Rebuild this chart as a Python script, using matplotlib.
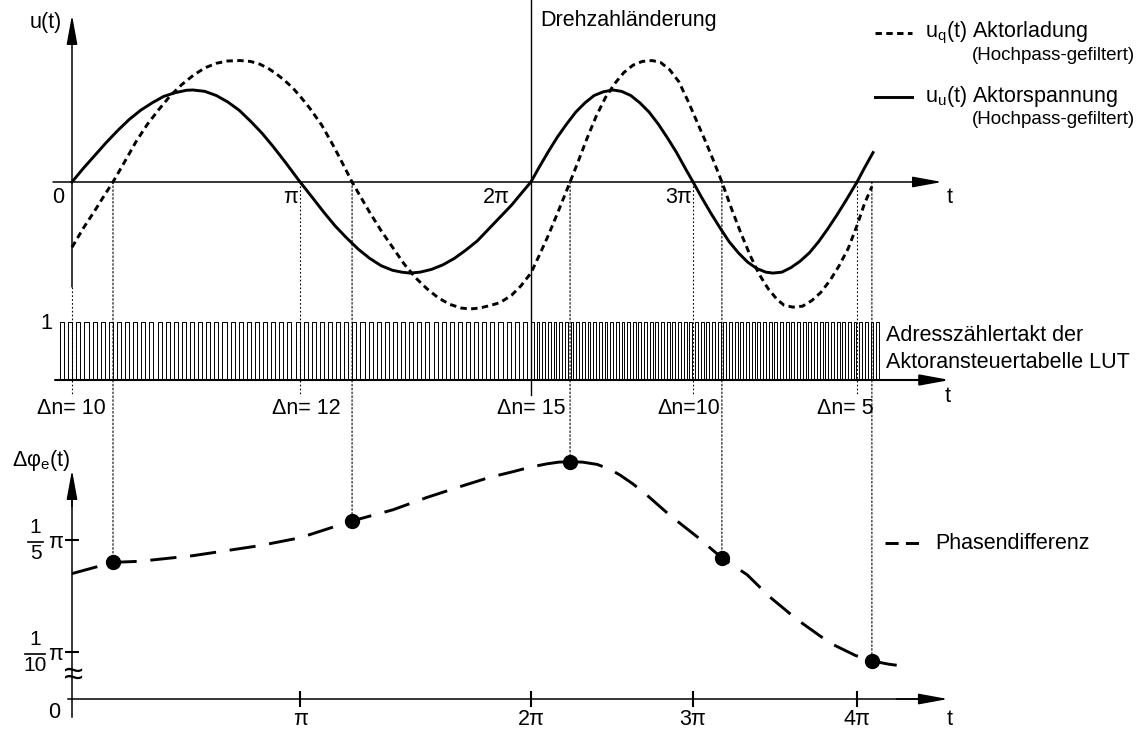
import numpy as np
import matplotlib.pyplot as plt
from matplotlib.patches import ConnectionPatch

plt.rcParams['font.family'] = ['Liberation Sans', 'DejaVu Sans']
plt.rcParams['mathtext.fontset'] = 'custom'
plt.rcParams['mathtext.rm'] = 'Liberation Sans'

# ---- data (t in units where one period before the speed change = 2) ----
# actuator voltage u_u(t), high-pass filtered
uu_t = [0.0, 0.05, 0.10, 0.15, 0.20, 0.25, 0.30, 0.35, 0.40, 0.45, 0.50, 0.528,
        0.58, 0.63, 0.68, 0.73, 0.78, 0.83, 0.88, 0.93, 0.996,
        1.05, 1.10, 1.15, 1.20, 1.25, 1.30, 1.35, 1.40, 1.44, 1.476,
        1.52, 1.57, 1.62, 1.67, 1.72, 1.77, 1.82, 1.87, 1.92, 1.96, 2.004,
        2.04, 2.08, 2.12, 2.16, 2.20, 2.24, 2.28, 2.32, 2.362,
        2.40, 2.44, 2.48, 2.52, 2.56, 2.60, 2.64, 2.68, 2.712,
        2.75, 2.79, 2.83, 2.87, 2.91, 2.95, 2.99, 3.03, 3.061,
        3.10, 3.14, 3.18, 3.22, 3.26, 3.30, 3.34, 3.38, 3.428, 3.46, 3.498]
uu_v = [0.0, 0.15, 0.29, 0.43, 0.56, 0.68, 0.78, 0.86, 0.93, 0.97, 0.997, 1.0,
        0.985, 0.94, 0.87, 0.78, 0.66, 0.53, 0.38, 0.22, 0.0,
        -0.17, -0.33, -0.48, -0.61, -0.73, -0.83, -0.91, -0.96, -0.98, -0.99,
        -0.98, -0.95, -0.90, -0.83, -0.74, -0.64, -0.51, -0.38, -0.25, -0.13, 0.0,
        0.16, 0.33, 0.49, 0.63, 0.76, 0.86, 0.94, 0.98, 1.0,
        0.985, 0.94, 0.86, 0.76, 0.63, 0.48, 0.32, 0.14, 0.0,
        -0.17, -0.34, -0.50, -0.65, -0.77, -0.87, -0.94, -0.98, -0.99,
        -0.98, -0.93, -0.86, -0.77, -0.65, -0.51, -0.36, -0.20, 0.0, 0.15, 0.32]

# actuator charge u_q(t), high-pass filtered
uq_t = [0.0, 0.05, 0.10, 0.14, 0.179, 0.23, 0.28, 0.33, 0.38, 0.43, 0.48, 0.53,
        0.58, 0.63, 0.68, 0.734, 0.78, 0.821, 0.86, 0.895, 0.93, 0.965, 1.00,
        1.039, 1.09, 1.14, 1.18, 1.223,
        1.26, 1.30, 1.35, 1.40, 1.45, 1.50, 1.55, 1.60, 1.65, 1.70, 1.738,
        1.78, 1.83, 1.87, 1.92, 1.96, 2.004,
        2.04, 2.08, 2.12, 2.175, 2.21, 2.25, 2.29, 2.33, 2.37, 2.41, 2.45, 2.49,
        2.533, 2.57, 2.61, 2.65, 2.69, 2.73, 2.77, 2.80, 2.838,
        2.88, 2.92, 2.96, 3.00, 3.04, 3.08, 3.11, 3.148,
        3.19, 3.23, 3.27, 3.31, 3.35, 3.39, 3.43, 3.46, 3.493]
uq_v = [-0.71, -0.50, -0.31, -0.15, 0.0, 0.22, 0.44, 0.63, 0.79, 0.94, 1.06, 1.16,
        1.24, 1.29, 1.315, 1.32, 1.31, 1.28, 1.23, 1.17, 1.10, 1.02, 0.92,
        0.80, 0.62, 0.40, 0.21, 0.0,
        -0.16, -0.33, -0.53, -0.71, -0.89, -1.04, -1.16, -1.26, -1.33, -1.37, -1.38,
        -1.37, -1.34, -1.31, -1.23, -1.13, -0.99,
        -0.80, -0.58, -0.34, 0.0, 0.22, 0.48, 0.72, 0.92, 1.07, 1.19, 1.27, 1.31,
        1.32, 1.30, 1.22, 1.09, 0.88, 0.65, 0.42, 0.24, 0.0,
        -0.29, -0.55, -0.79, -1.00, -1.16, -1.28, -1.34, -1.36,
        -1.35, -1.29, -1.20, -1.07, -0.91, -0.72, -0.46, -0.24, -0.05]

# phase difference in units of pi
phi_t = [0.0, 0.179, 0.297, 0.528, 0.821, 0.996, 1.223, 1.402, 1.550, 1.700, 1.825,
         1.926, 2.000, 2.074, 2.125, 2.175, 2.230, 2.293, 2.350, 2.393, 2.450, 2.511,
         2.611, 2.729, 2.838, 2.948, 3.048, 3.166, 3.310, 3.420, 3.493, 3.570, 3.646]
phi_v = [0.170, 0.180, 0.181, 0.186, 0.195, 0.202, 0.217, 0.227, 0.238, 0.248, 0.256,
         0.261, 0.265, 0.268, 0.2695, 0.270, 0.2695, 0.2675, 0.263, 0.258, 0.250, 0.240,
         0.222, 0.203, 0.184, 0.169, 0.149, 0.129, 0.108, 0.097, 0.092, 0.089, 0.087]

# sampling instants (zero crossings of u_q) and their phase difference
sample_t = [0.179, 1.223, 2.175, 2.838, 3.493]
sample_phi = [0.180, 0.217, 0.270, 0.184, 0.092]

# zero crossings of u_u
uu_zero_t = [0.996, 2.712, 3.428]
speed_change_t = 2.004

# clock of the LUT address counter
clock_start, clock_end = -0.052, 3.537
clock_pulses = [58, 62]          # pulses before / after the speed change
delta_n = ['Δn= 10', 'Δn= 12', 'Δn= 15', 'Δn=10', 'Δn= 5']
delta_n_t = [-0.153, 0.873, 1.856, 2.555, 3.253]

tick_t = [0.996, 2.004, 2.712, 3.428]
tick_labels = ['π', '2π', '3π', '4π']
phi_floor = 0.058                # broken axis: drawn "0" level

# ---- figure: three overlaid full-size axes sharing the t scale ----
fig = plt.figure(figsize=(11.42, 7.31), dpi=100)
xlim = (-0.3144, 4.6725)
ax_u = fig.add_axes([0, 0, 1, 1])
ax_c = fig.add_axes([0, 0, 1, 1])
ax_p = fig.add_axes([0, 0, 1, 1])
ax_u.set_ylim(-5.967, 1.978)
ax_c.set_ylim(-6.052, 6.552)
ax_p.set_ylim(0.02946, 0.68214)
for ax in (ax_u, ax_c, ax_p):
    ax.set_xlim(*xlim)
    ax.patch.set_alpha(0)
    for s in ax.spines.values():
        s.set_visible(False)
    ax.set_xticks([])
    ax.set_yticks([])

fs = 15.5
k = 'black'
arrow = dict(arrowstyle='-|>,head_length=1.8,head_width=0.33', color=k, lw=1.1,
             shrinkA=0, shrinkB=0, mutation_scale=10)
dotted = dict(color=k, lw=0.8, ls=(0, (1.5, 2)))
guide_bottom = -2.32

# ---- top panel: u(t) ----
ax_u.annotate('', xy=(0, 1.815), xytext=(0, -1.141), arrowprops=arrow)
ax_u.annotate('', xy=(3.799, 0), xytext=(-0.083, 0), arrowprops=arrow)
ax_u.plot([0, 0], [-1.141, guide_bottom], **dotted)
for t in uu_zero_t:
    ax_u.plot([t, t], [0, guide_bottom], **dotted)
ax_u.plot([speed_change_t] * 2, [1.978, guide_bottom], color=k, lw=1.0)

ax_u.plot(uq_t, uq_v, color=k, lw=2.1, ls=(0, (2.2, 1.5)))
ax_u.plot(uu_t, uu_v, color=k, lw=2.1, solid_joinstyle='round')

ax_u.text(-0.044, 1.73, 'u(t)', fontsize=fs, ha='right', va='center')
ax_u.text(-0.061, -0.17, '0', fontsize=fs, ha='center', va='center')
for t, lab in zip([0.987, 1.913, 2.707], ['π', '2π', '3π']):
    ax_u.text(t, -0.17, lab, fontsize=fs, ha='right', va='center')
ax_u.text(3.834, -0.17, 't', fontsize=fs, ha='center', va='center')
ax_u.text(2.044, 1.75, 'Drehzahländerung', fontsize=fs, ha='left', va='center')

# legend
ax_u.plot([3.507, 3.668], [1.62, 1.62], color=k, lw=2.1, ls=(0, (2.2, 1.5)))
ax_u.text(3.725, 1.62, r'u$_\mathregular{q}$(t) Aktorladung', fontsize=fs,
          ha='left', va='center')
ax_u.text(3.930, 1.37, '(Hochpass-gefiltert)', fontsize=13.5, ha='left', va='center')
ax_u.plot([3.507, 3.668], [0.924, 0.924], color=k, lw=2.1)
ax_u.text(3.725, 0.924, r'u$_\mathregular{u}$(t) Aktorspannung', fontsize=fs,
          ha='left', va='center')
ax_u.text(3.930, 0.674, '(Hochpass-gefiltert)', fontsize=13.5, ha='left', va='center')

# ---- middle panel: address counter clock ----
def clock_wave(t0, t1, n):
    edges = np.linspace(t0, t1, n + 1)
    xs, ys = [], []
    for a, b in zip(edges[:-1], edges[1:]):
        m = (a + b) / 2
        xs += [a, a, m, m]
        ys += [0, 1, 1, 0]
    return xs, ys

x1, y1 = clock_wave(clock_start, speed_change_t, clock_pulses[0])
x2, y2 = clock_wave(speed_change_t, clock_end, clock_pulses[1])
ax_c.plot(x1 + x2, y1 + y2, color=k, lw=0.7)
ax_c.annotate('', xy=(3.834, 0), xytext=(-0.074, 0),
              arrowprops=dict(arrow, lw=1.5))
ax_c.text(-0.114, 0.966, '1', fontsize=fs, ha='center', va='center')
for t, lab in zip(delta_n_t, delta_n):
    ax_c.text(t, -0.5, lab, fontsize=fs, ha='left', va='center')
ax_c.text(3.555, 0.759, 'Adresszählertakt der', fontsize=fs, ha='left', va='center')
ax_c.text(3.555, 0.310, 'Aktoransteuertabelle LUT', fontsize=fs, ha='left', va='center')
ax_c.text(3.825, -0.276, 't', fontsize=fs, ha='center', va='center')

# ---- bottom panel: phase difference ----
ax_p.spines['left'].set_visible(True)
ax_p.spines['left'].set_position(('data', 0.0))
ax_p.spines['left'].set_bounds(0.042, 0.24)
ax_p.spines['left'].set_linewidth(1.1)
ax_p.spines['bottom'].set_visible(True)
ax_p.spines['bottom'].set_position(('data', phi_floor))
ax_p.spines['bottom'].set_bounds(-0.017, 3.7)
ax_p.spines['bottom'].set_linewidth(1.1)
ax_p.set_xticks(tick_t, labels=tick_labels, fontsize=fs)
ax_p.set_yticks([0.1, 0.2], labels=['', ''])
ax_p.tick_params(axis='x', direction='inout', length=11, width=1.5, pad=2)
ax_p.tick_params(axis='y', direction='inout', length=9.5, width=1.5)
ax_p.annotate('', xy=(0, 0.2625), xytext=(0, 0.23), arrowprops=arrow)
ax_p.annotate('', xy=(3.825, phi_floor), xytext=(3.6, phi_floor), arrowprops=arrow)

ax_p.plot(phi_t, phi_v, color=k, lw=2.1, ls=(0, (9, 4.7)))
ax_p.plot(sample_t, sample_phi, 'o', color=k, ms=10, zorder=5)

ax_p.text(-0.262, 0.2714, r'Δφ$_\mathregular{e}$(t)', fontsize=fs, ha='left', va='center')
ax_p.text(-0.079, 0.0464, '0', fontsize=fs, ha='center', va='center')
ax_p.text(0.004, 0.0795, '≈', fontsize=25, ha='center', va='center')
ax_p.text(3.834, 0.0393, 't', fontsize=fs, ha='center', va='center')

# fraction labels on the phase axis: (value, numerator, denominator, bar extent in t)
for val, num, den, bar in [(0.2, '1', '5', (-0.192, -0.127)),
                           (0.1, '1', '10', (-0.205, -0.118))]:
    xc = (bar[0] + bar[1]) / 2
    ax_p.plot(bar, [val - 0.0015] * 2, color=k, lw=1.2)
    ax_p.text(xc, val + 0.0115, num, fontsize=15, ha='center', va='center')
    ax_p.text(xc, val - 0.0125, den, fontsize=15, ha='center', va='center')
    ax_p.text(-0.07, val - 0.002, 'π', fontsize=fs, ha='center', va='center')

ax_p.plot([3.550, 3.725], [0.1973, 0.1973], color=k, lw=2.1, ls=(0, (4.5, 2.5)))
ax_p.text(3.769, 0.1973, 'Phasendifferenz', fontsize=fs, ha='left', va='center')

# dotted guides from the u_q zero crossings down to the sampled phase values
for t, v in zip(sample_t, sample_phi):
    con = ConnectionPatch(xyA=(t, 0), coordsA='data', axesA=ax_u,
                          xyB=(t, v), coordsB='data', axesB=ax_p, **dotted)
    fig.add_artist(con)

plt.savefig('out.png', dpi=100)
